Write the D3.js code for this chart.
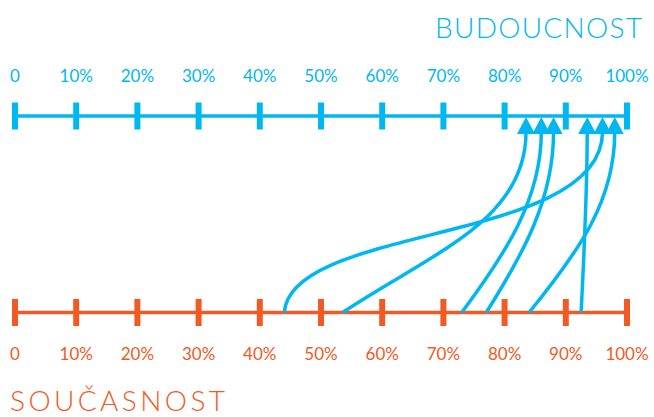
<!DOCTYPE html>
<html lang="cs">
<head>
<meta charset="UTF-8">
<title>Současnost / Budoucnost</title>
<style>
  html, body { margin: 0; padding: 0; background: #fff; }
  svg { display: block; }
  text { font-family: Lato, "Open Sans", sans-serif; font-weight: 400; }
  text.title { font-weight: 300; }
</style>
</head>
<body>
<div id="chart"></div>
<script src="https://d3js.org/d3.v7.min.js"></script>
<script>
// scale ticks and labels
const tickValues = [0, 10, 20, 30, 40, 50, 60, 70, 80, 90, 100];
const tickLabels = ["0", "10%", "20%", "30%", "40%", "50%", "60%", "70%", "80%", "90%", "100%"];

// each line: where it is now (bottom) and where it goes (top)
const currentShare = [44, 53.5, 73, 77, 84, 92.5];   // SOUČASNOST
const futureShare  = [96, 83.5, 86, 88, 98, 93.5];   // BUDOUCNOST

const topTitle = "BUDOUCNOST";
const bottomTitle = "SOUČASNOST";

// look
const width = 654, height = 417;
const blue = "#00b7f1", orange = "#f15a24";
const topY = 116, bottomY = 312.5;
// curve shape per line: [x pull of start handle, rise of start handle, drop of end handle]
const bends = [
  [0.02, 0.49, 0.62],
  [0.49, 0.33, 0.49],
  [0.54, 0.32, 0.375],
  [0.54, 0.32, 0.375],
  [0.60, 0.35, 0.375],
  [0.50, 0.33, 0.33]
];

const x = d3.scaleLinear().domain([0, 100]).range([15, 627]);

const svg = d3.select("#chart").append("svg")
  .attr("width", width).attr("height", height);

function drawScale(y, color, labelY) {
  const g = svg.append("g");
  g.append("line")
    .attr("x1", x(0)).attr("x2", x(100))
    .attr("y1", y).attr("y2", y)
    .attr("stroke", color).attr("stroke-width", 3.5);
  g.selectAll("rect").data(tickValues).enter().append("rect")
    .attr("x", d => x(d) - 3).attr("width", 6)
    .attr("y", y - 13.5).attr("height", 27)
    .attr("fill", color);
  g.selectAll("text").data(tickValues).enter().append("text")
    .attr("x", d => x(d)).attr("y", labelY)
    .attr("text-anchor", "middle")
    .attr("font-size", 17)
    .attr("fill", color)
    .text((d, i) => tickLabels[i]);
}

drawScale(topY, blue, 82);
drawScale(bottomY, orange, 360);

// links
const links = currentShare.map((c, i) => ({ from: c, to: futureShare[i], bend: bends[i] }));
const endY = topY + 16;

svg.append("g").selectAll("path").data(links).enter().append("path")
  .attr("d", d => {
    const x0 = x(d.from), x1 = x(d.to);
    const H = bottomY - endY, dx = x1 - x0;
    const p = d3.path();
    p.moveTo(x0, bottomY);
    p.bezierCurveTo(x0 + d.bend[0] * dx, bottomY - d.bend[1] * H,
                    x1, endY + d.bend[2] * H,
                    x1, endY);
    return p.toString();
  })
  .attr("fill", "none")
  .attr("stroke", blue)
  .attr("stroke-width", 3.5);

// arrow heads
svg.append("g").selectAll("path").data(links).enter().append("path")
  .attr("d", d => {
    const cx = x(d.to);
    return `M${cx},${topY + 1}L${cx + 9},${topY + 18}L${cx - 9},${topY + 18}Z`;
  })
  .attr("fill", blue);

// titles
svg.append("text")
  .attr("class", "title")
  .attr("x", 642).attr("y", 38)
  .attr("text-anchor", "end")
  .attr("font-size", 28)
  .attr("textLength", 207).attr("lengthAdjust", "spacing")
  .attr("fill", blue)
  .text(topTitle);

svg.append("text")
  .attr("class", "title")
  .attr("x", 10).attr("y", 411)
  .attr("font-size", 28)
  .attr("textLength", 215).attr("lengthAdjust", "spacing")
  .attr("fill", orange)
  .text(bottomTitle);
</script>
</body>
</html>
